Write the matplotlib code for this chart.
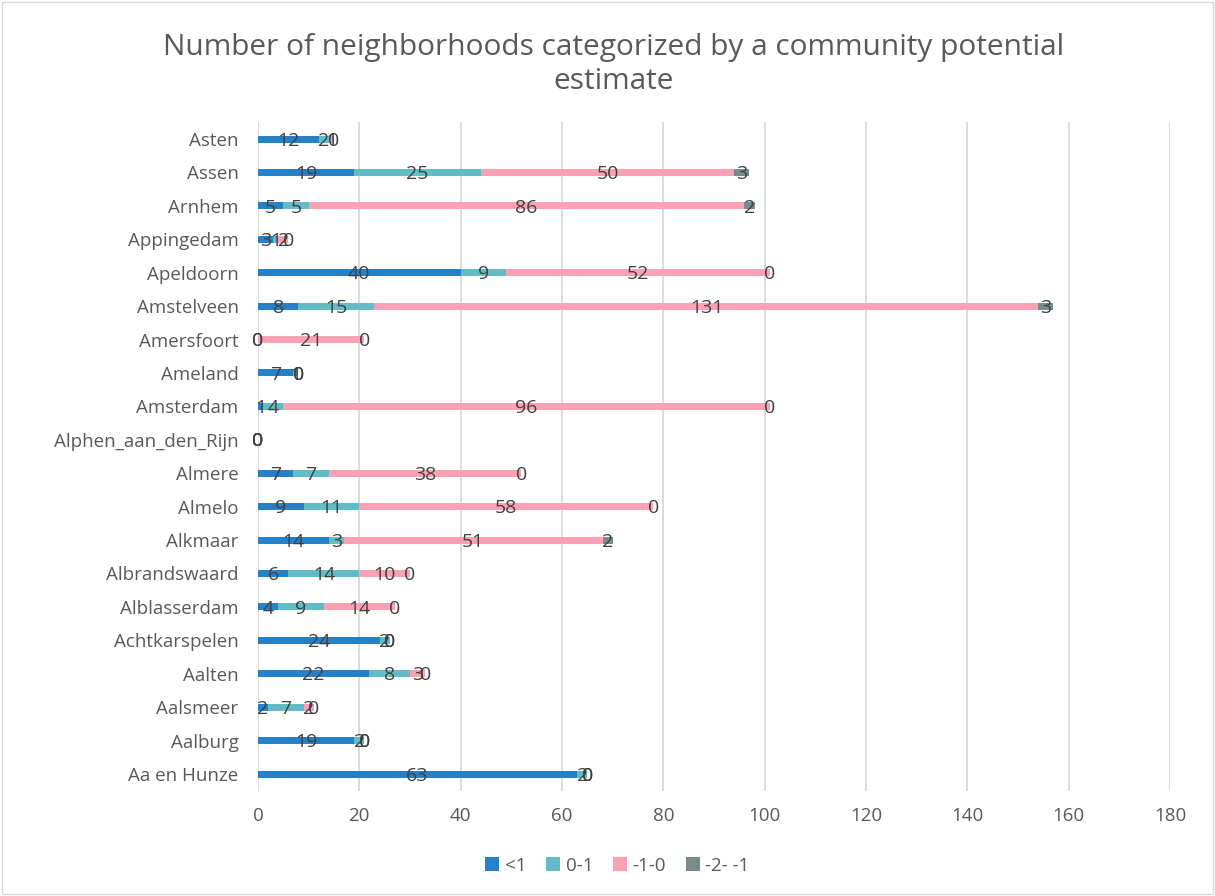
import matplotlib
matplotlib.use("Agg")
import matplotlib.pyplot as plt
import numpy as np

plt.rcParams['font.family'] = ['Open Sans', 'DejaVu Sans']

municipalities = ["Asten", "Assen", "Arnhem", "Appingedam", "Apeldoorn", "Amstelveen",
                  "Amersfoort", "Ameland", "Amsterdam", "Alphen_aan_den_Rijn", "Almere",
                  "Almelo", "Alkmaar", "Albrandswaard", "Alblasserdam", "Achtkarspelen",
                  "Aalten", "Aalsmeer", "Aalburg", "Aa en Hunze"]

lt1 = [12, 19, 5, 3, 40, 8, 0, 7, 1, 0, 7, 9, 14, 6, 4, 24, 22, 2, 19, 63]
p0_1 = [2, 25, 5, 1, 9, 15, 0, 1, 4, 0, 7, 11, 3, 14, 9, 2, 8, 7, 2, 2]
m1_0 = [1, 50, 86, 2, 52, 131, 21, 0, 96, 0, 38, 58, 51, 10, 14, 0, 3, 2, 0, 0]
m2_m1 = [0, 3, 2, 0, 0, 3, 0, 0, 0, 0, 0, 0, 2, 0, 0, 0, 0, 0, 0, 0]

series_names = ["<1", "0-1", "-1-0", "-2- -1"]
series_values = [lt1, p0_1, m1_0, m2_m1]
colors = ["#2680C6", "#63BCC5", "#FCA1B3", "#788B8C"]

x_ticks = list(range(0, 181, 20))

fig = plt.figure(figsize=(12.15, 8.96), dpi=100)
ax = fig.add_axes([0.2123, 0.1175, 0.963 - 0.2123, 0.746])

y = np.arange(len(municipalities))
left = np.zeros(len(municipalities))
for name, vals, col in zip(series_names, series_values, colors):
    vals = np.array(vals, dtype=float)
    ax.barh(y, vals, left=left, height=0.21, color=col, label=name, zorder=3)
    for yi, (l, v) in enumerate(zip(left, vals)):
        ax.text(l + v / 2, yi + 0.05, f"{int(v)}", ha="center", va="center",
                fontsize=14, color="#404040", zorder=4)
    left += vals

ax.set_ylim(len(municipalities) - 0.5, -0.5)
ax.set_xlim(0, 180)
ax.set_xticks(x_ticks)
ax.set_yticks(y)
ax.set_yticklabels(municipalities)
ax.tick_params(axis="both", length=0, labelsize=13.5, labelcolor="#595959")
ax.tick_params(axis="x", pad=12)
ax.tick_params(axis="y", pad=14)
ax.grid(axis="x", color="#D9D9D9", linewidth=1.3, zorder=0)
for s in ax.spines.values():
    s.set_visible(False)

fig.text(0.505, 0.928, "Number of neighborhoods categorized by a community potential\nestimate",
         ha="center", va="center", fontsize=21.5, color="#595959", linespacing=1.2)

fig.legend(loc="center", bbox_to_anchor=(0.508, 0.034), ncol=4, frameon=False,
           fontsize=13.5, handlelength=0.75, handleheight=0.75, handletextpad=0.3,
           columnspacing=1.05, labelcolor="#595959")

border = plt.Rectangle((0.002, 0.002), 0.996, 0.996, transform=fig.transFigure,
                       fill=False, edgecolor="#D9D9D9", linewidth=1)
fig.add_artist(border)

fig.savefig("out.png", dpi=100, facecolor="white")
